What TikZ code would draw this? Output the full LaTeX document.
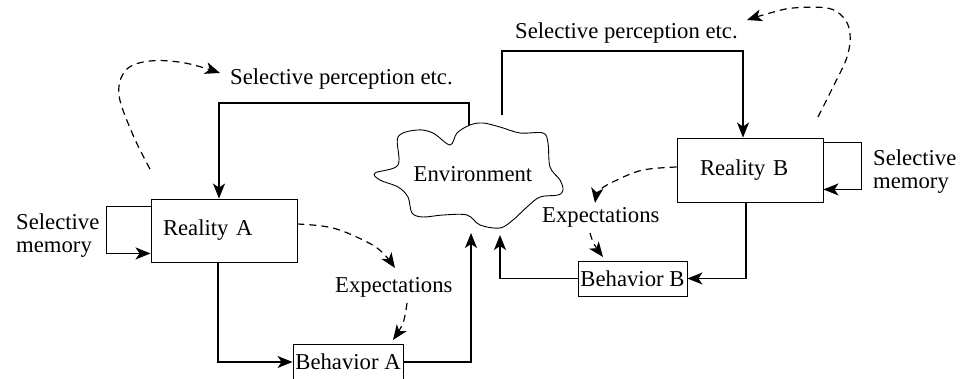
\documentclass[tikz,border=0pt]{standalone}
\usepackage{fontspec}
\setmainfont{Liberation Serif}
\usetikzlibrary{arrows.meta,calc}
\begin{document}
\begin{tikzpicture}[x=1pt,y=-1pt,
  font=\fontsize{22.7}{23}\selectfont,
  box/.style={draw,line width=0.9pt,inner ysep=0pt},
  arr/.style={line width=1.3pt,-{Stealth[length=15pt,width=12pt,inset=4pt]}},
  darr/.style={line width=1.2pt,dash pattern=on 7pt off 5pt,-{Stealth[length=15pt,width=12pt,inset=4pt]}},
  lbl/.style={inner sep=0pt,anchor=base west}]
\useasboundingbox (0,0) rectangle (964,379);

% boxes
\node[box,minimum width=146pt,minimum height=63pt,inner xsep=12pt,text width=122pt,align=left] (ra) at (224,230.5) {Reality A};
\node[box,minimum width=146pt,minimum height=64pt,inner xsep=23pt,text width=100pt,align=left] (rb) at (750,170) {Reality B};
\node[box,minimum width=110pt,minimum height=36pt,inner xsep=0pt,text depth=0pt] (ba) at (348,362) {Behavior A};
\node[box,minimum width=109pt,minimum height=35pt,inner xsep=0pt,text depth=0pt] (bb) at (632.5,278.5) {Behavior B};

% cloud
\draw[line width=0.9pt] plot[smooth cycle,tension=0.55] coordinates {
 (375,173) (398,165) (398,137) (417,130) (433,133) (450,145) (457,133) (470,125)
 (483,123) (500,127) (520,133) (543,133) (548,143) (550,167) (560,180) (563,190)
 (558,195) (540,197) (527,207) (513,220) (500,228) (480,225) (467,215) (443,215)
 (423,217) (412,213) (408,197) (398,187) (380,180)};
\node[inner sep=0pt,anchor=base] (env) at (473,182) {Environment};
\coordinate (envTL) at (469,125);
\coordinate (envTR) at (502,115);
\coordinate (envBA) at (471,233);
\coordinate (envBB) at (500,235);

% texts
\node[lbl] (spA) at (230,85) {Selective perception etc.};
\node[lbl] (spB) at (515,39) {Selective perception etc.};
\node[lbl] (exA) at (335,293) {Expectations};
\node[lbl] (exB) at (542,223) {Expectations};
\node[inner sep=0pt,anchor=base west,align=left] (smA) at (16,253) {Selective\\memory};
\node[inner sep=0pt,anchor=base west,align=left] (smB) at (873,189) {Selective\\memory};

% solid connectors
\coordinate (pa) at (219,103);
\draw[arr] (envTL) |- (pa) -- (pa |- ra.north);
\coordinate (pb) at (743,51);
\draw[arr] (envTR) |- (pb) -- (pb |- rb.north);
\draw[arr] ([yshift=-8pt]ra.north west) -- ++(-44,0) |- ([yshift=9pt]ra.south west);
\draw[arr] ([yshift=-5pt]rb.north east) -- ++(38,0) |- ([yshift=13pt]rb.south east);
\draw[arr] ([xshift=-6pt]ra.south) |- (ba.west);
\draw[arr] (ba.east) -| (envBA);
\draw[arr] ([xshift=-4pt]rb.south) |- (bb.east);
\draw[arr] (bb.west) -| (envBB);

% dashed connectors
\draw[darr] plot[smooth,tension=0.6] coordinates {(150,169) (133,135) (119,95) (126,70) (150,61) (185,63) (220,73)};
\draw[darr] plot[smooth,tension=0.6] coordinates {(818,117) (833,87) (847,57) (850,33) (843,17) (827,8) (793,8) (770,13) (747,20)};
\draw[darr] plot[smooth,tension=0.6] coordinates {(ra.east |- 0,224) (333,228) (367,242) (383,253) (395,268)};
\draw[darr] plot[smooth,tension=0.6] coordinates {(407,303) (403,323) (393,340)};
\draw[darr] plot[smooth,tension=0.6] coordinates {(rb.west |- 0,167) (643,170) (617,180) (600,190) (595,203)};
\draw[darr] plot[smooth,tension=0.6] coordinates {(590,233) (594,244) (603,257)};
\end{tikzpicture}
\end{document}
